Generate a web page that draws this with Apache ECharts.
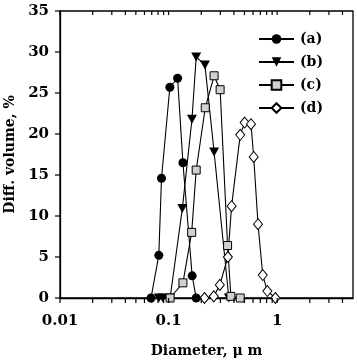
<!DOCTYPE html>
<html><head><meta charset="utf-8">
<script src="https://cdn.jsdelivr.net/npm/echarts@6/dist/echarts.min.js"></script>
<style>html,body{margin:0;padding:0;background:#fff}#c{width:357px;height:363px}</style>
</head><body><div id="c"></div>
<script>
const seriesNames = ['(a)', '(b)', '(c)', '(d)'];
const aDiam = [0.0689, 0.0813, 0.0861, 0.1028, 0.1211, 0.1356, 0.1650, 0.1797];
const aVol  = [0, 5.2, 14.6, 25.7, 26.8, 16.5, 2.7, 0];
const bDiam = [0.0813, 0.0885, 0.1033, 0.1339, 0.1643, 0.1797, 0.2163, 0.2627, 0.3594];
const bVol  = [0, 0, 0, 10.9, 21.8, 29.4, 28.4, 17.8, 0];
const cDiam = [0.1033, 0.1356, 0.1633, 0.1797, 0.2178, 0.2627, 0.2985, 0.3497, 0.3751, 0.4572];
const cVol  = [0, 1.85, 8.0, 15.6, 23.2, 27.1, 25.4, 6.4, 0.2, 0];
const dDiam = [0.2141, 0.2610, 0.2967, 0.3518, 0.3807, 0.4572, 0.5024, 0.5743, 0.6085, 0.6668, 0.7372, 0.8131, 0.9645];
const dVol  = [0, 0.2, 1.6, 5.0, 11.2, 19.9, 21.4, 21.2, 17.2, 9.0, 2.8, 0.85, 0];
const xMin = 0.01, xMax = 5;
const yMin = 0, yMax = 35, yStep = 5;
const xTickValues = [0.01,0.02,0.03,0.04,0.05,0.06,0.07,0.08,0.09,0.1,0.2,0.3,0.4,0.5,0.6,0.7,0.8,0.9,1,2,3,4];
const yTickValues = [0, 5, 10, 15, 20, 25, 30, 35];

const FONT = 'DejaVu Serif';
const zip = (xs, ys) => xs.map((x, i) => [x, ys[i]]);
const lineStyle = { color: '#000', width: 1.1 };

const chart = echarts.init(document.getElementById('c'), null, { renderer: 'canvas' });
chart.setOption({
  animation: false,
  backgroundColor: '#fff',
  grid: { left: 60, top: 11, right: 4, bottom: 65, outerBoundsContain: 'axisLabel',
          show: true, borderColor: '#000', borderWidth: 1.3, backgroundColor: 'transparent' },
  legend: {
    orient: 'vertical', left: 253, top: 27, itemWidth: 35, itemHeight: 12, itemGap: 9,
    data: seriesNames,
    textStyle: { fontFamily: FONT, fontWeight: 'bold', fontSize: 14, color: '#000', padding: [0, 0, 0, 1] }
  },
  xAxis: {
    type: 'log', logBase: 10, min: xMin, max: xMax, position: 'bottom',
    name: 'Diameter, \u03bc m', nameLocation: 'middle', nameGap: 46,
    nameTextStyle: { fontFamily: FONT, fontWeight: 'bold', fontSize: 14, color: '#000' },
    axisLine: { show: true, onZero: false, lineStyle: { color: '#000', width: 1.3 } },
    axisTick: { show: false },
    axisLabel: {
      margin: 16, fontFamily: FONT, fontWeight: 'bold', fontSize: 15, color: '#000',
      formatter: v => { const l = Math.log10(v); return Math.abs(l - Math.round(l)) < 1e-6 ? String(Number(v.toPrecision(6))) : ''; }
    },
    splitLine: { show: false }
  },
  yAxis: {
    type: 'value', min: yMin, max: yMax, interval: yStep,
    name: 'Diff. volume, %', nameLocation: 'middle', nameGap: 42,
    nameTextStyle: { fontFamily: FONT, fontWeight: 'bold', fontSize: 14, color: '#000' },
    axisLine: { show: true, lineStyle: { color: '#000', width: 1.3 } },
    axisTick: { show: false },
    axisLabel: { margin: 11, fontFamily: FONT, fontWeight: 'bold', fontSize: 15, color: '#000' },
    splitLine: { show: false }
  },
  series: [
    { name: seriesNames[0], type: 'line', data: zip(aDiam, aVol), symbol: 'circle', symbolSize: 9,
      itemStyle: { color: '#000' }, lineStyle },
    { name: seriesNames[1], type: 'line', data: zip(bDiam, bVol), symbol: 'triangle', symbolRotate: 180, symbolSize: [10, 9],
      itemStyle: { color: '#000' }, lineStyle },
    { name: seriesNames[2], type: 'line', data: zip(cDiam, cVol), symbol: 'rect', symbolSize: 8,
      itemStyle: { color: '#d0d0d0', borderColor: '#000', borderWidth: 1 }, lineStyle },
    { name: seriesNames[3], type: 'line', data: zip(dDiam, dVol), symbol: 'diamond', symbolSize: [9, 11],
      itemStyle: { color: '#fff', borderColor: '#000', borderWidth: 1 }, lineStyle },
    { type: 'custom', silent: true, clip: false, xAxisIndex: 0, yAxisIndex: 0, z: 10,
      data: xTickValues.map(v => [v, yMin]),
      encode: { x: 0, y: 1 },
      renderItem: (params, api) => {
        const v = api.value(0);
        const pb = api.coord([v, yMin]);
        const pt = api.coord([v, yMax]);
        return { type: 'group', children: [
          { type: 'line', shape: { x1: pb[0], y1: pb[1], x2: pb[0], y2: pb[1] + 5 }, style: { stroke: '#000', lineWidth: 1.2 } },
          { type: 'line', shape: { x1: pt[0], y1: pt[1], x2: pt[0], y2: pt[1] + 4 }, style: { stroke: '#000', lineWidth: 1.2 } }
        ] };
      }
    },
    { type: 'custom', silent: true, clip: false, xAxisIndex: 0, yAxisIndex: 0, z: 10,
      data: yTickValues.map(v => [xMin, v]),
      encode: { x: 0, y: 1 },
      renderItem: (params, api) => {
        const p = api.coord([api.value(0), api.value(1)]);
        return { type: 'line', shape: { x1: p[0] - 5, y1: p[1], x2: p[0], y2: p[1] }, style: { stroke: '#000', lineWidth: 1.2 } };
      }
    }
  ]
});
</script></body></html>
